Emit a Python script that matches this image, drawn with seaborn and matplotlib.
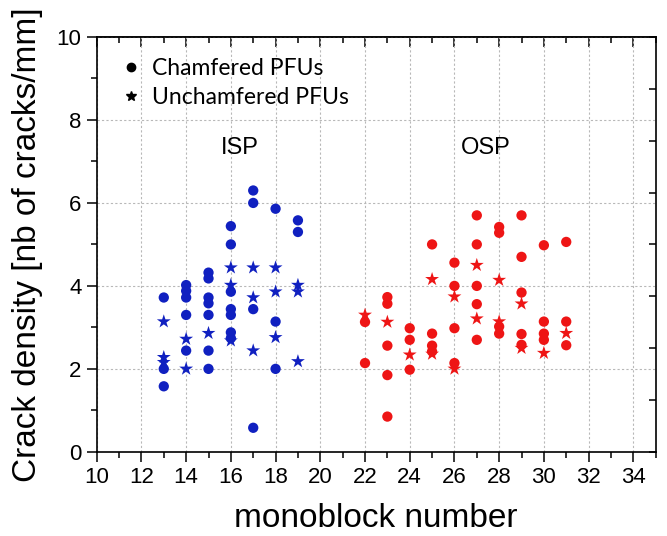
import numpy as np
import pandas as pd
import matplotlib
matplotlib.use('Agg')
import matplotlib.pyplot as plt
import seaborn as sns
from matplotlib.lines import Line2D
from matplotlib.ticker import MultipleLocator

# ISP - chamfered PFUs (circles)
isp_ch_x = [13, 13, 13,
            14, 14, 14, 14, 14,
            15, 15, 15, 15, 15, 15, 15,
            16, 16, 16, 16, 16, 16, 16,
            17, 17, 17, 17,
            18, 18, 18,
            19, 19]
isp_ch_y = [3.72, 2.00, 1.58,
            4.02, 3.88, 3.72, 3.30, 2.44,
            4.32, 4.18, 3.72, 3.58, 3.30, 2.44, 2.00,
            5.44, 5.00, 3.86, 3.44, 3.30, 2.88, 2.74,
            6.30, 6.00, 3.44, 0.58,
            5.86, 3.14, 2.00,
            5.58, 5.30]

# ISP - unchamfered PFUs (stars)
isp_un_x = [13, 13, 13, 14, 14, 15, 16, 16, 16, 17, 17, 17, 18, 18, 18, 19, 19, 19]
isp_un_y = [3.14, 2.28, 2.16, 2.72, 2.00, 2.86, 4.44, 4.02, 2.68,
            4.44, 3.72, 2.44, 4.44, 3.86, 2.76, 4.02, 3.86, 2.18]

# OSP - chamfered PFUs (circles)
osp_ch_x = [22, 22,
            23, 23, 23, 23, 23,
            24, 24, 24,
            25, 25, 25, 25,
            26, 26, 26, 26,
            27, 27, 27, 27, 27,
            28, 28, 28, 28,
            29, 29, 29, 29, 29,
            30, 30, 30, 30,
            31, 31, 31]
osp_ch_y = [3.13, 2.14,
            3.73, 3.57, 2.56, 1.85, 0.85,
            2.98, 2.70, 1.98,
            5.00, 2.85, 2.56, 2.42,
            4.56, 4.00, 2.98, 2.14,
            5.70, 5.00, 4.00, 3.56, 2.70,
            5.42, 5.28, 3.02, 2.85,
            5.70, 4.70, 3.84, 2.84, 2.58,
            4.98, 3.14, 2.85, 2.70,
            5.06, 3.14, 2.57]

# OSP - unchamfered PFUs (stars)
osp_un_x = [22, 23, 24, 25, 25, 26, 26, 27, 27, 28, 28, 29, 29, 30, 31]
osp_un_y = [3.30, 3.13, 2.34, 4.16, 2.36, 3.74, 2.00, 4.50, 3.21,
            4.14, 3.14, 3.57, 2.50, 2.38, 2.86]

blue = '#1020c0'
red = '#ee1515'

sns.set_theme(style='white')
plt.rcParams['font.family'] = ['Liberation Sans', 'DejaVu Sans']
plt.rcParams['text.color'] = 'black'
plt.rcParams['axes.labelcolor'] = 'black'

fig = plt.figure(figsize=(6.67, 5.36), dpi=100)
ax = fig.add_axes([0.145, 0.157, 0.838, 0.774])

ch = pd.DataFrame({
    'x': isp_ch_x + osp_ch_x,
    'y': isp_ch_y + osp_ch_y,
    'region': ['ISP'] * len(isp_ch_x) + ['OSP'] * len(osp_ch_x),
})
un = pd.DataFrame({
    'x': isp_un_x + osp_un_x,
    'y': isp_un_y + osp_un_y,
    'region': ['ISP'] * len(isp_un_x) + ['OSP'] * len(osp_un_x),
})
pal = {'ISP': blue, 'OSP': red}

sns.scatterplot(data=ch, x='x', y='y', hue='region', palette=pal, marker='o',
                s=55, linewidth=0, legend=False, ax=ax, zorder=3)
sns.scatterplot(data=un, x='x', y='y', hue='region', palette=pal, marker='*',
                s=110, linewidth=0, legend=False, ax=ax, zorder=3)

ax.set_xlim(10, 35)
ax.set_ylim(0, 10)
ax.xaxis.set_major_locator(MultipleLocator(2))
ax.xaxis.set_minor_locator(MultipleLocator(1))
ax.yaxis.set_major_locator(MultipleLocator(2))
ax.yaxis.set_minor_locator(MultipleLocator(1))
ax.tick_params(which='both', direction='out', bottom=True, left=True,
               top=False, right=False, colors='black')
ax.tick_params(which='major', length=7, width=1.1, labelsize=16, pad=4)
ax.tick_params(which='minor', length=4, width=1.1)
ax.grid(True, which='major', color='#b8b8b8', linestyle=(0, (2, 2)), linewidth=0.8)
for sp in ax.spines.values():
    sp.set_color('black')
    sp.set_linewidth(1.2)

# top axis: inward ticks matching the bottom
top = ax.secondary_xaxis('top')
top.xaxis.set_major_locator(MultipleLocator(2))
top.xaxis.set_minor_locator(MultipleLocator(1))
top.tick_params(which='both', direction='in', labeltop=False, colors='black', width=1.1)
top.tick_params(which='major', length=7)
top.tick_params(which='minor', length=4)
top.spines['top'].set_linewidth(1.2)

# right axis: inward ticks dividing the height in eight
right = ax.twinx()
right.set_ylim(0, 8)
right.yaxis.set_major_locator(MultipleLocator(1))
right.tick_params(axis='y', which='both', direction='in', labelright=False,
                  length=5, width=1.1, colors='black')
right.grid(False)
for sp in right.spines.values():
    sp.set_visible(False)

ax.set_xlabel('monoblock number', fontsize=24, labelpad=11)
ax.set_ylabel('Crack density [nb of cracks/mm]', fontsize=24, labelpad=10)

ax.text(16.4, 7.33, 'ISP', fontsize=17, ha='center', va='center')
ax.text(27.4, 7.33, 'OSP', fontsize=17, ha='center', va='center')

handles = [
    Line2D([], [], marker='o', color='black', linestyle='none', markersize=6),
    Line2D([], [], marker='*', color='black', linestyle='none', markersize=7),
]
leg = ax.legend(handles, ['Chamfered PFUs', 'Unchamfered PFUs'], loc='upper left',
                frameon=False, handletextpad=0.3, borderaxespad=0.5,
                handlelength=1.2, labelspacing=0.35,
                prop={'family': 'Lato', 'size': 16.5})

fig.savefig('out.png', dpi=100)
